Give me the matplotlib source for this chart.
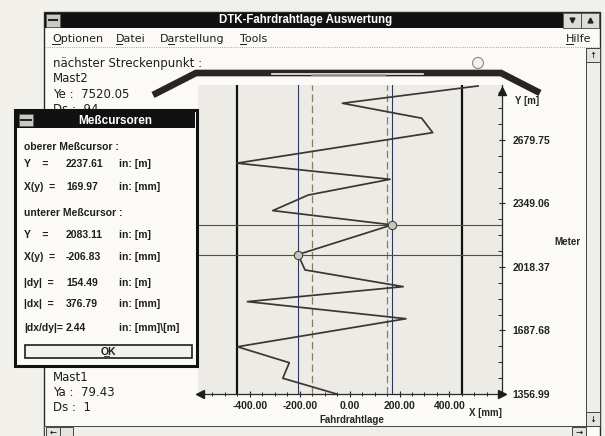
import matplotlib
matplotlib.use("Agg")
import matplotlib.pyplot as plt
from matplotlib.patches import Rectangle, Circle
import numpy as np

# Fahrdrahtlage [mm] ueber Streckenposition [m]
trace_x = [515, -29, 289, 333, -452, 162, -166, -308, 169.97, -206.83,
           -179, 215, -410, 226, -450, -242, -268, -52]
trace_y = [2961, 2871, 2793, 2718, 2559, 2475, 2393, 2312, 2237.61, 2083.11,
           2003, 1916, 1838, 1749, 1603, 1520, 1439, 1356.99]
cursor_x = [169.97, -206.83]     # oberer / unterer Messcursor
cursor_y = [2237.61, 2083.11]
limit_x = [-450, 450]            # Grenzlage
tol_x = [-150, 150]              # Toleranz (gestrichelt)
xticks = [-400, -200, 0, 200, 400]
yticks = [1356.99, 1687.68, 2018.37, 2349.06, 2679.75]

# Dialogtexte: (Zeile, Bezeichnung, Wert, Einheit)
dlg_rows = [
    (147, "oberer Meßcursor :", "", ""),
    (164, "Y    =", "2237.61", "in: [m]"),
    (187, "X(y)  =", "169.97", "in: [mm]"),
    (213, "unterer Meßcursor :", "", ""),
    (235, "Y    =", "2083.11", "in: [m]"),
    (257, "X(y)  =", "-206.83", "in: [mm]"),
    (283, "|dy|  =", "154.49", "in: [m]"),
    (304, "|dx|  =", "376.79", "in: [mm]"),
    (328, "|dx/dy|=", "2.44", "in: [mm]\\[m]"),
]

W, H = 605, 436
fig = plt.figure(figsize=(W / 100, H / 100), dpi=100)
fig.patch.set_facecolor("#f1f0eb")

SANS = "DejaVu Sans"
ARIAL = ["Liberation Sans", "DejaVu Sans"]
INK = "#1e1e1e"


def box(a, x0, y0, x1, y1, fc, ec="#333333", lw=0.8, z=1):
    a.add_patch(Rectangle((x0, y0), x1 - x0, y1 - y0, fc=fc, ec=ec, lw=lw, zorder=z))


# ---------- Fensterrahmen ----------
bg = fig.add_axes([0, 0, 1, 1], zorder=0)
bg.set_xlim(0, W)
bg.set_ylim(H, 0)
bg.axis("off")

box(bg, 44, 12, 600, 445, "#fbfaf6", ec="#2a2a2a", lw=1.0)
box(bg, 45, 13, 563, 28, "#111111", lw=0, z=2)
box(bg, 46, 14, 60, 27, "#c9c9c5", ec="#555555", lw=0.5, z=3)
bg.plot([49, 57], [20.5, 20.5], color="#222222", lw=1.5, zorder=4)
box(bg, 563, 13, 581, 28, "#dcdcd8", ec="#444444", lw=0.6, z=2)
box(bg, 581, 13, 599, 28, "#dcdcd8", ec="#444444", lw=0.6, z=2)
bg.plot([572], [20.5], marker="v", ms=3.5, color="#222222", zorder=4)
bg.plot([590], [20.5], marker="^", ms=3.5, color="#222222", zorder=4)
bg.text(306, 20.5, "DTK-Fahrdrahtlage Auswertung", color="white", ha="center",
        va="center", fontsize=8.3, fontweight="bold", family=ARIAL, zorder=4)

# Menue
for x, s, ux in [(52, "Optionen", (52, 60)), (116, "Datei", (116, 122)),
                 (160, "Darstellung", (168, 174)), (240, "Tools", (240, 246)),
                 (566, "Hilfe", (566, 573))]:
    bg.text(x, 38.5, s, fontsize=8, family=SANS, color=INK, va="center", zorder=4)
    bg.plot(ux, [44, 44], color=INK, lw=0.7, zorder=4)
bg.plot([45, 599], [47.5, 47.5], color="#8a8a8a", lw=0.6, ls=":", zorder=4)

# Scrollbalken
box(bg, 586, 48, 600, 426, "#efeee9", ec="#444444", lw=0.7, z=2)
box(bg, 586, 48, 600, 62, "#e4e3de", ec="#444444", lw=0.7, z=3)
box(bg, 586, 412, 600, 426, "#e4e3de", ec="#444444", lw=0.7, z=3)
bg.text(593, 55, "↑", fontsize=6, ha="center", va="center", family=SANS, zorder=4)
bg.text(593, 419, "↓", fontsize=6, ha="center", va="center", family=SANS, zorder=4)
box(bg, 44, 426, 586, 445, "#efeee9", ec="#444444", lw=0.7, z=2)
box(bg, 46, 427, 60, 445, "#e4e3de", ec="#444444", lw=0.7, z=3)
box(bg, 60, 427, 73, 445, "#e4e3de", ec="#444444", lw=0.7, z=3)
box(bg, 572, 427, 586, 445, "#e4e3de", ec="#444444", lw=0.7, z=3)
bg.text(53, 432, "←", fontsize=6, ha="center", va="center", family=SANS, zorder=4)
bg.text(579, 432, "→", fontsize=6, ha="center", va="center", family=SANS, zorder=4)

# Texte im Arbeitsbereich
for y, s in [(63, "nächster Streckenpunkt :"), (79, "Mast2"),
             (94, "Ye :  7520.05"), (109, "Ds :  94"),
             (377, "Mast1"), (392, "Ya :  79.43"), (407, "Ds :  1")]:
    bg.text(53, y, s, fontsize=8.5, family=SANS, color=INK, va="center", zorder=4)

# Fahrleitungs-Symbol oben
bg.plot([153, 196, 501, 540], [95, 73, 73, 93], color="#2a2521", lw=4.8,
        solid_joinstyle="miter", solid_capstyle="butt", zorder=3)
bg.plot([272, 423], [74.3, 74.3], color="#f3f1eb", lw=1.2, zorder=4)
bg.plot([312, 385], [74.8, 74.8], color="#9b9a96", lw=1.2, zorder=5)
bg.add_patch(Circle((478, 63), 5.5, fc="#f3f1ea", ec="#8a8a86", lw=0.8, zorder=4))

# Achsenbeschriftung
lab = dict(fontsize=7, fontweight="bold", family=ARIAL, color="#262626", zorder=4)
bg.text(515, 101, "Y [m]", va="center", **lab)
bg.text(567, 242, "Meter", ha="center", va="center", **lab)
bg.text(485, 413, "X [mm]", ha="center", va="center", **lab)
bg.text(352, 420, "Fahrdrahtlage", ha="center", va="center", **lab)

# ---------- Diagramm ----------
ax = fig.add_axes([198 / W, 1 - 394 / H, (502 - 198) / W, (394 - 85) / H], zorder=1)
ax.set_facecolor("#edebe5")
ax.set_xlim(-608, 611)
ax.set_ylim(1356.99, 2966)
ax.spines["top"].set_visible(False)
ax.spines["left"].set_visible(False)
for s in ["bottom", "right"]:
    ax.spines[s].set_color("#2a2a2a")
    ax.spines[s].set_linewidth(0.9)
ax.yaxis.tick_right()

ax.vlines(limit_x, 1356.99, 2966, color="#111111", lw=1.6, zorder=2)
ax.vlines(tol_x, 1356.99, 2966, color="#8c7c5e", lw=0.9,
          linestyles=(0, (6, 3)), zorder=2)
for cx in cursor_x:
    ax.axvline(cx, color="#2b3a5c", lw=0.8, zorder=2)
for cy in cursor_y:
    ax.axhline(cy, color="#3a5a4a", lw=0.8, zorder=2)

ax.plot(trace_x, trace_y, color="#3a3632", lw=1.25, zorder=3)
ax.plot(cursor_x, cursor_y, "o", ms=6, mfc="#c9c6bd", mec="#444444", mew=0.8, zorder=4)

# Pfeilspitzen der Achsen
arrow = dict(color="#1e1e1e", ms=6, clip_on=False, zorder=5)
ax.plot([-600], [1356.99], marker="<", **arrow)
ax.plot([611], [1356.99], marker=">", **arrow)
ax.plot([611], [2935], marker="^", **arrow)

ax.set_xticks(xticks, [f"{v:.2f}" for v in xticks])
ax.set_xticks(np.arange(-600, 601, 50), minor=True)
ax.set_yticks(yticks, [f"{v:.2f}" for v in yticks])
ax.set_yticks(np.arange(yticks[0], 2930, (yticks[1] - yticks[0]) / 4), minor=True)
ax.tick_params(axis="x", which="major", direction="inout", length=5, width=0.8,
               pad=2.5, labelsize=7.5, colors="#222222")
ax.tick_params(axis="x", which="minor", direction="inout", length=3, width=0.7,
               colors="#222222")
ax.tick_params(axis="y", which="major", direction="inout", length=5, width=0.8,
               pad=5.2, labelsize=7.5, colors="#222222")
ax.tick_params(axis="y", which="minor", direction="in", length=3, width=0.7,
               colors="#222222")
for t in ax.get_xticklabels() + ax.get_yticklabels():
    t.set_family(ARIAL)
    t.set_fontweight("bold")

# ---------- Dialog "Messcursoren" ----------
top = fig.add_axes([0, 0, 1, 1], zorder=2)
top.set_xlim(0, W)
top.set_ylim(H, 0)
top.axis("off")

box(top, 15, 110, 197, 366, "#fbfaf6", ec="#111111", lw=2.2)
box(top, 17, 112, 195, 128, "#111111", lw=0, z=2)
box(top, 19, 114, 33, 126, "#c9c9c5", ec="#555555", lw=0.5, z=3)
top.plot([21, 31], [120, 120], color="#222222", lw=1.4, zorder=4)
top.text(115, 120.5, "Meßcursoren", color="white", ha="center", va="center",
         fontsize=8.5, fontweight="bold", family=ARIAL, zorder=4)

dt = dict(fontsize=7.5, fontweight="bold", family=ARIAL, color=INK, va="center", zorder=4)
for y, name, val, unit in dlg_rows:
    top.text(24, y, name, **dt)
    if val:
        top.text(66, y, val, **dt)
        top.text(119, y, unit, **dt)

box(top, 25, 345, 192, 358, "#f2f1ec", ec="#1e1e1e", lw=1.2, z=3)
top.text(108, 351.5, "OK", ha="center", **dt)
top.plot([103.5, 108.5], [356, 356], color=INK, lw=0.6, zorder=4)

fig.savefig("out.png", dpi=100, facecolor=fig.get_facecolor())
